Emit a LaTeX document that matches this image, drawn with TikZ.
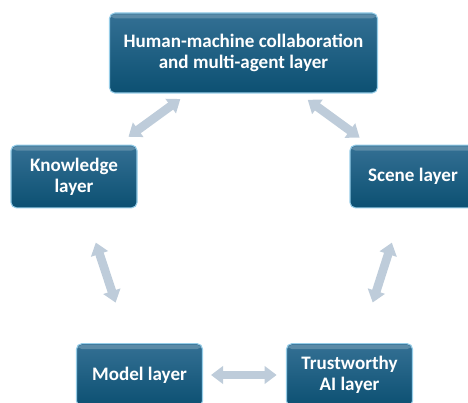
\documentclass[tikz,border=0pt]{standalone}
\usepackage{fontspec}
\setmainfont{Carlito}
\usetikzlibrary{arrows.meta}

\definecolor{boxtop}{RGB}{52,112,148}
\definecolor{boxbot}{RGB}{12,80,114}
\definecolor{boxedge}{RGB}{150,205,232}
\definecolor{arrowgray}{RGB}{190,204,218}

\tikzset{
  layer/.style={rounded corners=4pt, top color=boxtop, bottom color=boxbot,
    draw=boxedge, line width=0.8pt, text=white, align=center,
    font=\bfseries\fontsize{14.3}{15.5}\selectfont, inner sep=2pt,
    minimum width=94.5pt, minimum height=47pt,
    path picture={\fill[white, opacity=0.2]
      ([yshift=-1pt]path picture bounding box.north west) rectangle
      ([yshift=-4pt]path picture bounding box.north east);}},
  dblarrow/.style={draw=arrowgray, line width=6.5pt,
    {Triangle[length=9pt,width=13pt]}-{Triangle[length=9pt,width=13pt]}}
}

\begin{document}
\begin{tikzpicture}[x=0.75pt,y=-0.75pt]
	\useasboundingbox (0,0) rectangle (468,403);
	% layers
	\node[layer, minimum width=201pt, minimum height=60pt] (hmc) at (243.5,53) {Human-machine collaboration\\and multi-agent layer};
	\node[layer] (know) at (74,176.5) {Knowledge\\layer};
	\node[layer] (scene) at (413,176.5) {Scene layer};
	\node[layer] (model) at (139.5,375) {Model layer};
	\node[layer] (trust) at (349.5,375) {Trustworthy\\AI layer};
	% links between layers
	\draw[dblarrow, shorten <=7pt, shorten >=10pt] (hmc) -- (know);
	\draw[dblarrow, shorten <=8pt, shorten >=9pt] (hmc) -- (scene);
	\draw[dblarrow, shorten <=27pt, shorten >=32pt] (know) -- (model);
	\draw[dblarrow, shorten <=27pt, shorten >=32pt] (scene) -- (trust);
	\draw[dblarrow, shorten <=6pt, shorten >=7pt] (model) -- (trust);
\end{tikzpicture}
\end{document}
